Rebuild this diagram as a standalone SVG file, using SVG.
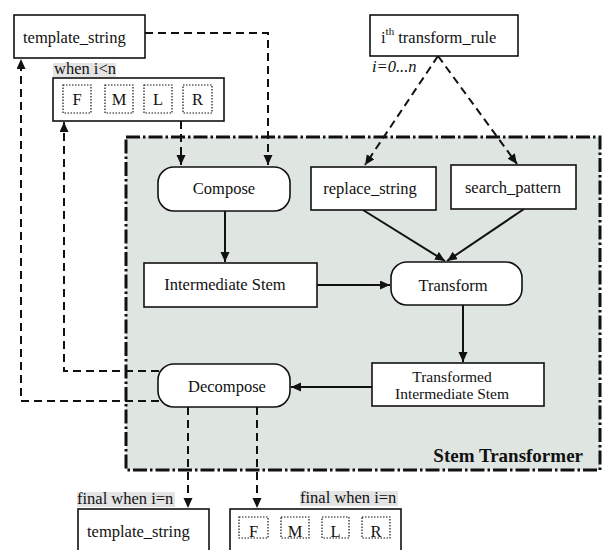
<svg xmlns="http://www.w3.org/2000/svg" width="603" height="550" viewBox="0 0 603 550" font-family="'Liberation Serif', 'Times New Roman', serif">
<style>
text{font-family:"Liberation Serif","Times New Roman",serif;font-size:16.5px;fill:#111}
.box{fill:#fff;stroke:#111;stroke-width:1.6}
.dot{fill:none;stroke:#111;stroke-width:1.2;stroke-dasharray:1.5,1.5}
.dash{fill:none;stroke:#111;stroke-width:2;stroke-dasharray:8,5}
.solid{fill:none;stroke:#111;stroke-width:2}
.lbl{fill:#e4e4e4}
.c{text-anchor:middle}
</style>
<defs>
<marker id="arr" markerWidth="11" markerHeight="10" refX="10" refY="4.5" orient="auto" markerUnits="userSpaceOnUse">
<path d="M0,0 L10,4.5 L0,9 z" fill="#111"/>
</marker>
</defs>

<g id="stem-transformer">
<rect x="126" y="137" width="474" height="333" fill="#dfe5e1" stroke="#111" stroke-width="3" stroke-dasharray="14,3,2.5,3"/>
<text x="583" y="462" text-anchor="end" style="font-weight:bold;font-size:19px">Stem Transformer</text>
</g>

<g id="connectors">
<path class="dash" d="M145,33 H268 V165" marker-end="url(#arr)"/>
<path class="dash" d="M181,121 V165" marker-end="url(#arr)"/>
<path class="dash" d="M438,56 L365,165" marker-end="url(#arr)"/>
<path class="dash" d="M438,56 L517,164" marker-end="url(#arr)"/>
<path class="solid" d="M225,211 V262" marker-end="url(#arr)"/>
<path class="solid" d="M317,285 H390" marker-end="url(#arr)"/>
<path class="solid" d="M363,210 L445,261" marker-end="url(#arr)"/>
<path class="solid" d="M524,209 L447,261" marker-end="url(#arr)"/>
<path class="solid" d="M463,305 V362" marker-end="url(#arr)"/>
<path class="solid" d="M372,387 H291" marker-end="url(#arr)"/>
<path class="dash" d="M159,371 H64 V122" marker-end="url(#arr)"/>
<path class="dash" d="M159,401 H21 V59" marker-end="url(#arr)"/>
<path class="dash" d="M188,407 V508" marker-end="url(#arr)"/>
<path class="dash" d="M257,407 V508" marker-end="url(#arr)"/>
</g>

<g id="template-string-top">
<rect class="box" x="14" y="15" width="131" height="43"/>
<text x="23" y="43">template_string</text>
</g>

<g id="fmlr-top">
<rect class="lbl" x="53" y="63" width="63" height="14"/>
<text x="54" y="74">when i&lt;n</text>
<rect class="box" x="53" y="78" width="171" height="43"/>
<rect class="dot" x="63" y="85" width="28" height="28"/>
<rect class="dot" x="105" y="85" width="28" height="28"/>
<rect class="dot" x="144" y="85" width="28" height="28"/>
<rect class="dot" x="183" y="85" width="29" height="28"/>
<text class="c" x="77" y="105">F</text>
<text class="c" x="119" y="105">M</text>
<text class="c" x="158" y="105">L</text>
<text class="c" x="197.5" y="105">R</text>
</g>

<g id="transform-rule">
<rect class="box" x="370" y="15" width="148" height="41"/>
<text x="381" y="43">i<tspan dy="-8" style="font-size:11px">th</tspan><tspan dy="8"> transform_rule</tspan></text>
<text x="372" y="72" style="font-style:italic">i=0...n</text>
</g>

<g id="compose">
<rect class="box" x="158" y="167" width="132" height="44" rx="16"/>
<text class="c" x="224" y="194">Compose</text>
</g>

<g id="replace-string">
<rect class="box" x="311" y="167" width="125" height="43"/>
<text class="c" x="370" y="194">replace_string</text>
</g>

<g id="search-pattern">
<rect class="box" x="451" y="165" width="125" height="44"/>
<text class="c" x="513" y="193">search_pattern</text>
</g>

<g id="intermediate-stem">
<rect class="box" x="144" y="263" width="173" height="44"/>
<text class="c" x="225" y="290">Intermediate Stem</text>
</g>

<g id="transform">
<rect class="box" x="391" y="262" width="131" height="43" rx="16"/>
<text class="c" x="453" y="291">Transform</text>
</g>

<g id="transformed-intermediate-stem">
<rect class="box" x="372" y="363" width="172" height="43"/>
<text class="c" x="452" y="382" style="font-size:15.5px">Transformed</text>
<text class="c" x="452" y="399" style="font-size:15.5px">Intermediate Stem</text>
</g>

<g id="decompose">
<rect class="box" x="158" y="364" width="132" height="43" rx="16"/>
<text class="c" x="227" y="392">Decompose</text>
</g>

<g id="template-string-bottom">
<rect class="lbl" x="77" y="492" width="98" height="15"/>
<text x="77" y="504">final when i=n</text>
<rect class="box" x="78" y="509" width="131" height="50"/>
<text x="87" y="537">template_string</text>
</g>

<g id="fmlr-bottom">
<rect class="lbl" x="300" y="491" width="98" height="15"/>
<text x="300" y="503">final when i=n</text>
<rect class="box" x="230" y="509" width="171" height="50"/>
<rect class="dot" x="239" y="517" width="29" height="21"/>
<rect class="dot" x="281" y="517" width="28" height="21"/>
<rect class="dot" x="322" y="517" width="27" height="21"/>
<rect class="dot" x="362" y="517" width="28" height="21"/>
<text class="c" x="253.5" y="537">F</text>
<text class="c" x="295" y="537">M</text>
<text class="c" x="335.5" y="537">L</text>
<text class="c" x="376" y="537">R</text>
</g>
</svg>
